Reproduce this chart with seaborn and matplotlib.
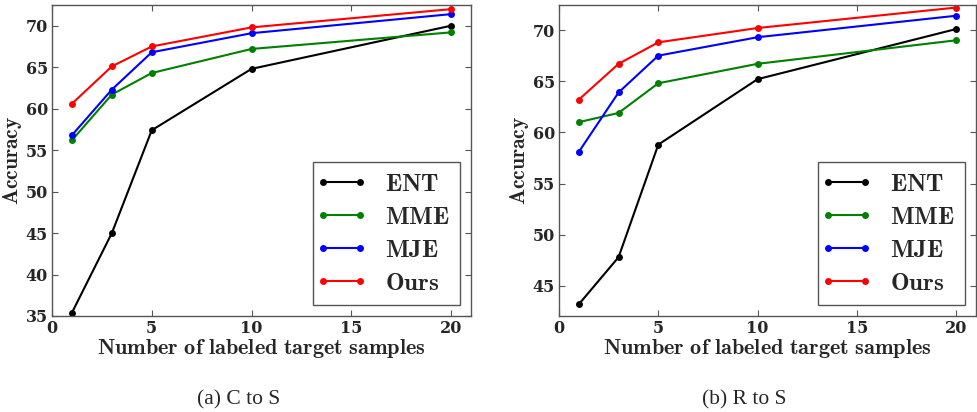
import pandas as pd
import matplotlib
matplotlib.use("Agg")
import matplotlib.pyplot as plt
import matplotlib.ticker as mticker
from matplotlib.lines import Line2D
from matplotlib.legend_handler import HandlerLine2D
import seaborn as sns

# values
shots = [1, 3, 5, 10, 20]
methods = ["ENT", "MME", "MJE", "Ours"]

c2s_ent = [35.4, 45.0, 57.4, 64.8, 70.0]
c2s_mme = [56.2, 61.7, 64.3, 67.2, 69.2]
c2s_mje = [56.8, 62.3, 66.8, 69.1, 71.4]
c2s_ours = [60.6, 65.1, 67.5, 69.8, 72.0]

r2s_ent = [43.2, 47.8, 58.8, 65.2, 70.1]
r2s_mme = [61.0, 61.9, 64.8, 66.7, 69.0]
r2s_mje = [58.1, 63.9, 67.5, 69.3, 71.4]
r2s_ours = [63.2, 66.7, 68.8, 70.2, 72.2]

captions = ["(a) C to S", "(b) R to S"]
palette = {"ENT": "black", "MME": "green", "MJE": "blue", "Ours": "red"}


def to_long(series):
    rows = []
    for m, vals in zip(methods, series):
        for x, v in zip(shots, vals):
            rows.append({"shots": x, "acc": v, "method": m})
    return pd.DataFrame(rows)


c2s = to_long([c2s_ent, c2s_mme, c2s_mje, c2s_ours])
r2s = to_long([r2s_ent, r2s_mme, r2s_mje, r2s_ours])

sns.set_style("ticks")
plt.rcParams["mathtext.fontset"] = "cm"

fig = plt.figure(figsize=(9.77, 4.12), dpi=100)
ax1 = fig.add_axes([52 / 977, 1 - 316 / 412, 419 / 977, 311 / 412])
ax2 = fig.add_axes([559 / 977, 1 - 316 / 412, 417 / 977, 311 / 412])

for ax, df, ylim, cap, cx in [(ax1, c2s, (35, 72.5), captions[0], 239),
                              (ax2, r2s, (42.05, 72.45), captions[1], 744)]:
    sns.lineplot(data=df, x="shots", y="acc", hue="method", palette=palette,
                 marker="o", markersize=5, markeredgewidth=0, linewidth=1.5,
                 ax=ax)
    ax.set_xlim(0, 21)
    ax.set_ylim(*ylim)
    ax.set_xticks([0, 5, 10, 15, 20])
    ax.yaxis.set_major_locator(mticker.MultipleLocator(5))
    ax.tick_params(direction="in", top=True, right=True, labelsize=11.5,
                   length=4, color="#555555", pad=3)
    for t in ax.get_xticklabels() + ax.get_yticklabels():
        t.set_family("DejaVu Serif")
        t.set_fontweight("bold")
    for s in ax.spines.values():
        s.set_color("#555555")
        s.set_linewidth(1.0)
    ax.set_xlabel(r"$\mathbf{Number\ of\ labeled\ target\ samples}$",
                  fontsize=16, labelpad=0)
    ax.set_ylabel(r"$\mathbf{Accuracy}$", fontsize=15.5, labelpad=1)
    h, l = ax.get_legend_handles_labels()
    leg = ax.legend(h, [r"$\mathbf{%s}$" % t for t in l], loc="lower right",
                    fontsize=18, fancybox=False, framealpha=1,
                    handler_map={Line2D: HandlerLine2D(marker_pad=0, numpoints=2)},
                    borderpad=0.4, labelspacing=0.36, handlelength=1.45,
                    handletextpad=1.0, borderaxespad=0.45)
    leg.get_frame().set_edgecolor("#555555")
    fig.text(cx / 977, 1 - 400 / 412, cap, ha="center", va="center",
             fontsize=15.5, family="Liberation Serif")

fig.savefig("out.png", dpi=100)
